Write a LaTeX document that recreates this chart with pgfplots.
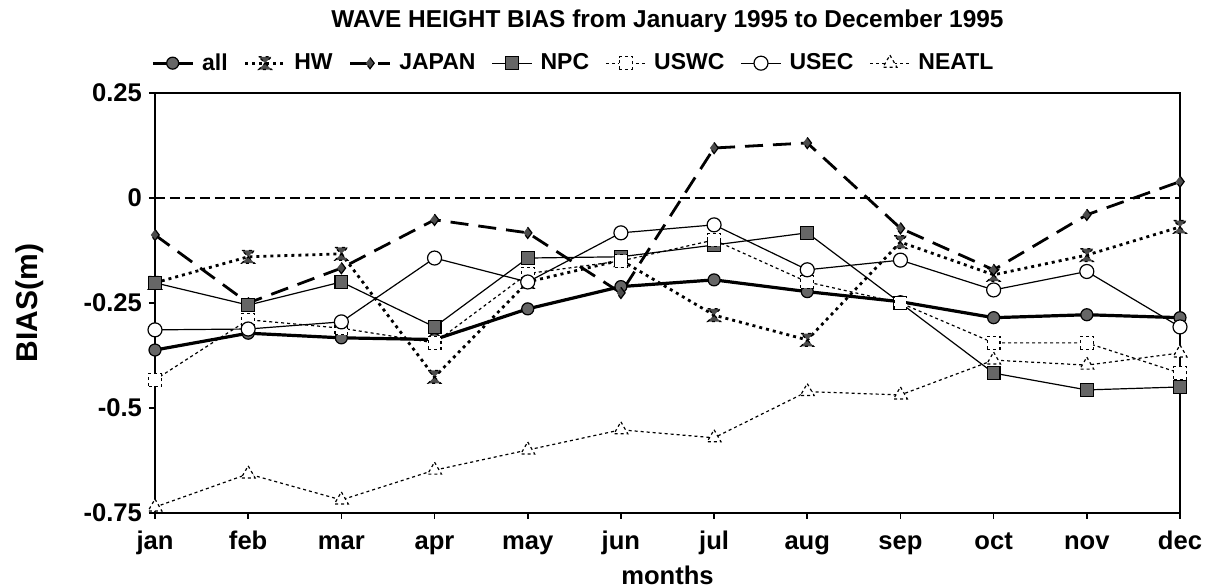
\documentclass[border=0pt]{standalone}
\usepackage{fontspec}
\setmainfont{Liberation Sans}
\usepackage{pgfplots}
\pgfplotsset{compat=1.18}
\pgfdeclareplotmark{hourglass}{%
  \pgfpathmoveto{\pgfqpoint{-\pgfplotmarksize}{\pgfplotmarksize}}%
  \pgfpathlineto{\pgfqpoint{\pgfplotmarksize}{\pgfplotmarksize}}%
  \pgfpathlineto{\pgfqpoint{-\pgfplotmarksize}{-\pgfplotmarksize}}%
  \pgfpathlineto{\pgfqpoint{\pgfplotmarksize}{-\pgfplotmarksize}}%
  \pgfpathclose
  \pgfusepathqfillstroke}
\begin{document}
\begin{tikzpicture}
\begin{axis}[
  name=ax,
  scale only axis,
  width=512.5pt, height=210pt,
  xmin=0, xmax=11, ymin=-0.75, ymax=0.25,
  xtick={0,...,11},
  xticklabels={jan,feb,mar,apr,may,jun,jul,aug,sep,oct,nov,dec},
  ytick={-0.75,-0.5,-0.25,0,0.25},
  yticklabels={-0.75,-0.5,-0.25,0,0.25},
  xtick pos=bottom, ytick pos=left,
  tick align=outside, major tick length=3pt,
  tick style={black, line width=0.8pt},
  axis line style={line width=1.2pt},
  ticklabel style={font=\fontsize{12.8}{14}\selectfont\bfseries},
  xticklabel style={anchor=base, yshift=-15.5pt},
  /pgf/number format/assume math mode=true,
  title={WAVE HEIGHT BIAS from January 1995 to December 1995},
  title style={font=\fontsize{12.2}{14}\selectfont\bfseries, at={(0.5,1)}, anchor=center, yshift=30pt},
  xlabel={months}, ylabel={BIAS(m)},
  xlabel style={font=\fontsize{12.8}{14}\selectfont\bfseries, at={(axis description cs:0.5,-0.148)}, anchor=center},
  ylabel style={font=\fontsize{15}{17}\selectfont\bfseries, at={(axis description cs:-0.122,0.5)}, anchor=center},
  legend columns=7,
  legend style={at={(-0.01,1.071)}, anchor=west, draw=none, fill=none,
    font=\fontsize{11.5}{13}\selectfont\bfseries,
    /tikz/every even column/.append style={column sep=6pt},
    /tikz/every odd column/.append style={column sep=2pt}},
  legend image code/.code={\draw[mark repeat=2,mark phase=2,#1] plot coordinates {(0cm,0cm) (0.35cm,0cm) (0.7cm,0cm)};},
  every axis plot/.append style={black},
  every mark/.append style={solid},
  clip=false,
]
\addplot[line width=1.6pt, mark=*, mark size=3pt, mark options={fill=black!60, line width=0.6pt}] coordinates {
(0,-0.362) (1,-0.322) (2,-0.333) (3,-0.337) (4,-0.264) (5,-0.211) (6,-0.195) (7,-0.223) (8,-0.247) (9,-0.285) (10,-0.278) (11,-0.285)};
\addlegendentry{all}
\addplot[line width=1.4pt, dash pattern=on 1.5pt off 2pt, mark=hourglass, mark size=3.2pt, mark options={fill=black!70, line width=0.6pt}] coordinates {
(0,-0.202) (1,-0.14) (2,-0.133) (3,-0.426) (4,-0.20) (5,-0.148) (6,-0.279) (7,-0.338) (8,-0.105) (9,-0.183) (10,-0.136) (11,-0.069)};
\addlegendentry{HW}
\addplot[line width=1.4pt, dash pattern=on 9pt off 5pt, mark=diamond*, mark size=2.8pt, mark options={fill=black!70, line width=0.6pt}] coordinates {
(0,-0.088) (1,-0.25) (2,-0.167) (3,-0.052) (4,-0.083) (5,-0.226) (6,0.119) (7,0.131) (8,-0.072) (9,-0.171) (10,-0.04) (11,0.039)};
\addlegendentry{JAPAN}
\addplot[line width=0.6pt, mark=square*, mark size=3.2pt, mark options={fill=black!60}] coordinates {
(0,-0.202) (1,-0.255) (2,-0.2) (3,-0.307) (4,-0.143) (5,-0.14) (6,-0.112) (7,-0.083) (8,-0.25) (9,-0.417) (10,-0.457) (11,-0.45)};
\addlegendentry{NPC}
\addplot[line width=0.6pt, dash pattern=on 1.5pt off 1.5pt, mark=square*, mark size=3.2pt, mark options={fill=white}] coordinates {
(0,-0.433) (1,-0.29) (2,-0.31) (3,-0.345) (4,-0.18) (5,-0.15) (6,-0.10) (7,-0.20) (8,-0.25) (9,-0.345) (10,-0.345) (11,-0.417)};
\addlegendentry{USWC}
\addplot[line width=0.6pt, mark=*, mark size=3.5pt, mark options={fill=white}] coordinates {
(0,-0.314) (1,-0.312) (2,-0.295) (3,-0.143) (4,-0.20) (5,-0.083) (6,-0.064) (7,-0.171) (8,-0.148) (9,-0.219) (10,-0.175) (11,-0.307)};
\addlegendentry{USEC}
\addplot[line width=0.6pt, dash pattern=on 1.5pt off 1.5pt, mark=triangle*, mark size=4pt, mark options={fill=white}] coordinates {
(0,-0.736) (1,-0.657) (2,-0.719) (3,-0.648) (4,-0.60) (5,-0.552) (6,-0.571) (7,-0.461) (8,-0.469) (9,-0.386) (10,-0.398) (11,-0.369)};
\addlegendentry{NEATL}
\addplot[line width=0.6pt, dash pattern=on 5pt off 2.5pt, forget plot] coordinates {(0,0) (11,0)};
\end{axis}
\pgfresetboundingbox
\path ([shift={(-77.5pt,-37pt)}]ax.south west) rectangle ([shift={(16pt,46.5pt)}]ax.north east);
\end{tikzpicture}
\end{document}
